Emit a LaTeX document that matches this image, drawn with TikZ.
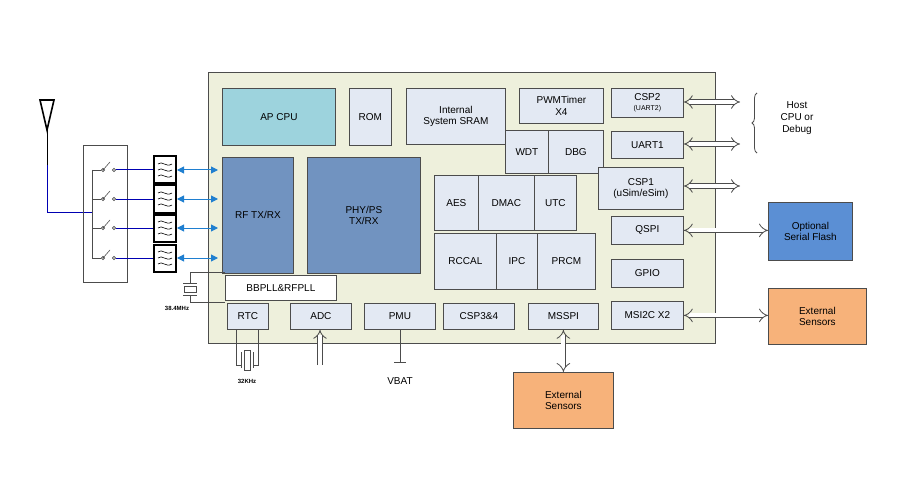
\documentclass[tikz,border=0pt]{standalone}
\usepackage{fontspec}
\setmainfont{Liberation Sans}
\usetikzlibrary{arrows.meta,decorations.pathreplacing}
\definecolor{chip}{HTML}{EEF0DC}
\definecolor{blk}{HTML}{E3E9F3}
\definecolor{apc}{HTML}{9DD3DD}
\definecolor{rfc}{HTML}{7193C0}
\definecolor{flc}{HTML}{5B8FD4}
\definecolor{orc}{HTML}{F7B27A}
\definecolor{arb}{HTML}{1F7FD0}
\begin{document}
\begin{tikzpicture}[x=1pt,y=-1pt,font=\fontsize{10}{11.5}\selectfont,
  b/.style={draw=black!70,line width=0.8pt,fill=blk,align=center},
  dbl/.style={double=white,double distance=4pt,line width=0.8pt,draw=black!70,-{Implies[length=5pt]}},
  dbl2/.style={dbl,{Implies[length=5pt]}-{Implies[length=5pt]}},
  ba/.style={arb,line width=1pt,{Triangle[width=7pt,length=7pt]}-{Triangle[width=7pt,length=7pt]}}]
\useasboundingbox (0,0) rectangle (900,500);
% chip
\draw[black!70,line width=0.8pt,fill=chip] (208,72) rectangle (715,343);
\node[b,fill=apc,minimum width=113,minimum height=57,anchor=north west] (ap) at (222,88) {AP CPU};
\node[b,minimum width=42,minimum height=57,anchor=north west] (rom) at (349,88) {ROM};
\node[b,minimum width=99,minimum height=56,anchor=north west] (sram) at (406,88) {Internal\\System SRAM};
\node[b,minimum width=84,minimum height=35,anchor=north west,inner sep=1pt] (pwm) at (519,88) {PWMTimer\\X4};
\node[b,minimum width=72,minimum height=29,anchor=north west,inner sep=1pt] (csp2) at (611,88) {CSP2\\[-1pt]{\fontsize{7}{8}\selectfont (UART2)}};
\node[b,minimum width=72,minimum height=27,anchor=north west] (uart1) at (611,131) {UART1};
\node[b,minimum width=43,minimum height=43,anchor=north west] (wdt) at (505,130) {WDT};
\node[b,minimum width=55,minimum height=43,anchor=north west] (dbg) at (548,130) {DBG};
\node[b,minimum width=85,minimum height=42,anchor=north west] (csp1) at (598,167) {CSP1\\(uSim/eSim)};
\node[b,minimum width=44,minimum height=55,anchor=north west] (aes) at (434,175) {AES};
\node[b,minimum width=56,minimum height=55,anchor=north west] (dmac) at (478,175) {DMAC};
\node[b,minimum width=42,minimum height=55,anchor=north west] (utc) at (534,175) {UTC};
\node[b,minimum width=62,minimum height=56,anchor=north west] (rccal) at (434,233) {RCCAL};
\node[b,minimum width=41,minimum height=56,anchor=north west] (ipc) at (496,233) {IPC};
\node[b,minimum width=58,minimum height=56,anchor=north west] (prcm) at (537,233) {PRCM};
\node[b,minimum width=72,minimum height=28,anchor=north west] (qspi) at (611,216) {QSPI};
\node[b,minimum width=72,minimum height=28,anchor=north west] (gpio) at (611,259) {GPIO};
\node[b,minimum width=72,minimum height=28,anchor=north west] (msi) at (611,301) {MSI2C X2};
\node[b,fill=rfc,minimum width=71,minimum height=116,anchor=north west] (rf) at (222,157) {RF TX/RX};
\node[b,fill=rfc,minimum width=113,minimum height=116,anchor=north west] (phy) at (307,157) {PHY/PS\\TX/RX};
\node[b,fill=white,minimum width=111,minimum height=25,anchor=north west] (pll) at (225,275) {BBPLL\&RFPLL};
\node[b,minimum width=41,minimum height=26,anchor=north west] (rtc) at (227,303) {RTC};
\node[b,minimum width=61,minimum height=26,anchor=north west] (adc) at (290,303) {ADC};
\node[b,minimum width=71,minimum height=26,anchor=north west] (pmu) at (364,303) {PMU};
\node[b,minimum width=71,minimum height=26,anchor=north west] (csp34) at (443,303) {CSP3\&4};
\node[b,minimum width=70,minimum height=26,anchor=north west] (msspi) at (528,303) {MSSPI};
% external
\node[b,fill=flc,minimum width=84,minimum height=58,anchor=north west] (flash) at (768,202) {Optional\\Serial Flash};
\node[b,fill=orc,minimum width=98,minimum height=56,anchor=north west] (es1) at (768,288) {External\\Sensors};
\node[b,fill=orc,minimum width=100,minimum height=56,anchor=north west] (es2) at (513,372) {External\\Sensors};
\node[align=center,font=\fontsize{10}{12}\selectfont] (host) at (797,118) {Host\\CPU or\\Debug};
\draw[black!70,line width=0.8pt,decorate,decoration={brace,amplitude=5pt}] (757,153) -- (757,93);
\coordinate (h1) at (740,102); \coordinate (h2) at (740,144); \coordinate (h3) at (740,186);
\draw[dbl2] (csp2.east |- h1) -- (h1);
\draw[dbl2] (uart1.east |- h2) -- (h2);
\draw[dbl2] (csp1.east |- h3) -- (h3);
\draw[dbl2] (qspi.east) -- (flash.west |- qspi.east);
\draw[dbl2] (msi.east) -- (es1.west |- msi.east);
\draw[dbl2] (msspi.south) -- (es2.north -| msspi.south);
\coordinate (adcin) at (320,365);
\draw[dbl] (adcin) -- (adc.south -| adcin);
\coordinate (vb) at (400,362);
\draw[black!70,line width=0.8pt] (pmu.south -| vb) -- (vb);
\draw[black!70,line width=0.8pt] (394,362) -- (406,362);
\node (vbat) at (400,381) {VBAT};
% antenna
\coordinate (at) at (47,130);
\draw[line width=1.6pt] (40,100) -- (54,100) -- (at) -- cycle;
\draw[line width=1pt] (at) -- (47,165);
\draw[blue!70!black,line width=1pt] (47,165) -- (47,212) -- (92,212);
\node[draw=black!70,line width=0.8pt,minimum width=44,minimum height=137,anchor=north west] (sw) at (83,145) {};
\draw[black!70,line width=0.8pt] (92,170) -- (92,258);
\foreach \y/\n in {170/1,199/2,228/3,258/4}{
  \draw[black!70,line width=0.8pt] (92,\y) -- (101,\y);
  \draw[black!70,line width=0.6pt] (103,\y) circle (1.6) -- (110,\y-8);
  \draw[black!70,line width=0.6pt] (114,\y) circle (1.6);
  \node[draw,line width=2pt,minimum width=22,minimum height=27,inner sep=0pt] (f\n) at (165,\y) {};
  \foreach \d in {-6,0,6}{\draw[line width=0.6pt] (158,\y+\d) .. controls (162,\y+\d-4) and (166,\y+\d+4) .. (172,\y+\d);}
  \draw[blue!70!black,line width=1pt] (116,\y) -- (f\n.west);
  \coordinate (r\n) at (218,\y);
  \draw[ba] (f\n.east) -- (r\n);
}
% crystals
\draw[black!70,line width=0.8pt] (225,272) -- (190,272) -- (190,283);
\draw[black!70,line width=0.8pt] (225,302) -- (190,302) -- (190,295);
\draw[black!70,line width=0.8pt] (184,286) rectangle (196,292);
\draw[black!70,line width=0.8pt] (183,283) -- (197,283) (183,295) -- (197,295);
\node[font=\fontsize{6}{7}\selectfont\bfseries] (x1) at (177,308) {38.4MHz};
\draw[black!70,line width=0.8pt] (236,329) -- (236,365) -- (241,365) (241,352) -- (241,368);
\draw[black!70,line width=0.8pt] (258,329) -- (258,365) -- (253,365) (253,352) -- (253,368);
\draw[black!70,line width=0.8pt] (244,350) rectangle (250,370);
\node[font=\fontsize{6}{7}\selectfont\bfseries] (x2) at (247,381) {32KHz};
\end{tikzpicture}
\end{document}
